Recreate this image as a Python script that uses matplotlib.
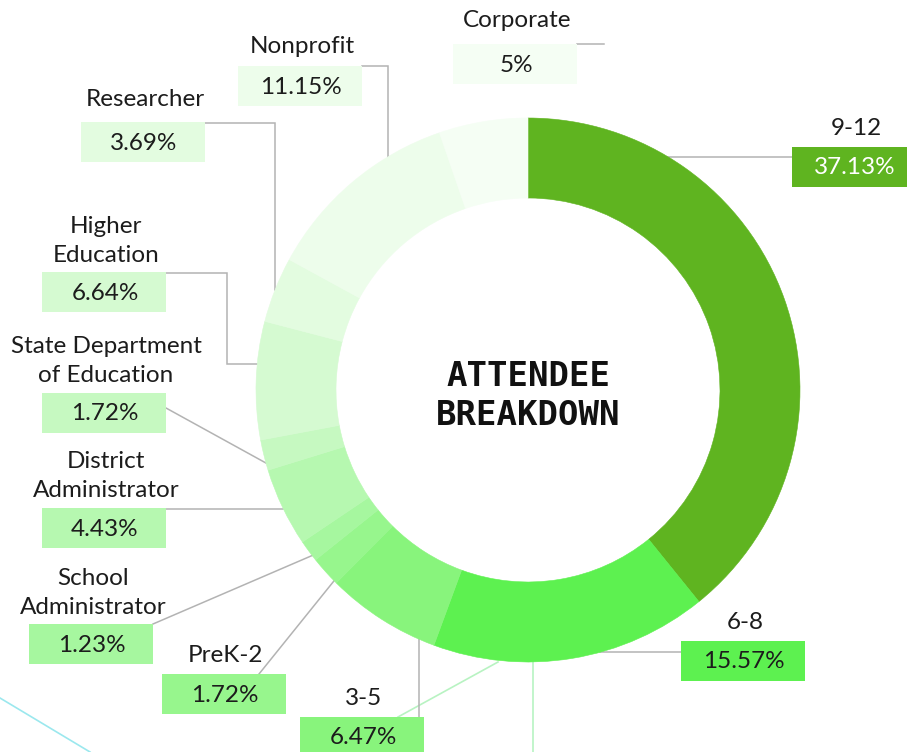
import numpy as np
import matplotlib.pyplot as plt
from matplotlib.patches import Rectangle

# data (clockwise from 12 o'clock)
categories = ['9-12', '6-8', '3-5', 'PreK-2', 'School\nAdministrator',
              'District\nAdministrator', 'State Department\nof Education',
              'Higher\nEducation', 'Researcher', 'Nonprofit', 'Corporate']
shares = [37.13, 15.57, 6.47, 1.72, 1.23, 4.43, 1.72, 6.64, 3.69, 11.15, 5]
colors = ['#5fb420', '#5df150', '#88f47c', '#97f68d', '#a6f79f', '#b6f8b0',
          '#c6f9c1', '#d5fad1', '#e3fce0', '#edfdeb', '#f5fef4']

# layout in pixels (y measured from top)
CX, CY, R, RING_W = 528, 390, 272, 80
BOX_W, BOX_H = 124, 40
# box top-left, baseline of last name line, leader kind, leader start, position inside wedge
layout = {
    '9-12': dict(box=(792, 147), name_y=135, kind='h', start=(792, 0), pos=0.22),
    '6-8': dict(box=(681, 641), name_y=629, kind='h', start=(681, 0), pos=0.40),
    '3-5': dict(box=(300, 717), name_y=705, kind='v', start=(0, 717), pos=0.14),
    'PreK-2': dict(box=(162, 674), name_y=662, kind='d', start=(259, 674), pos=0.10),
    'School\nAdministrator': dict(box=(29, 624), name_y=614, kind='d', start=(153, 624), pos=0.25),
    'District\nAdministrator': dict(box=(42, 508), name_y=497, kind='h', start=(166, 0), pos=0.48),
    'State Department\nof Education': dict(box=(42, 393), name_y=382, kind='d', start=(166, 408), pos=0.24),
    'Higher\nEducation': dict(box=(42, 272), name_y=262, kind='hvh', start=(166, 273), pos=0.64, via=227),
    'Researcher': dict(box=(81, 122), name_y=106, kind='hv', start=(205, 123), pos=0.50),
    'Nonprofit': dict(box=(238, 66), name_y=53, kind='hv', start=(362, 66), pos=0.72),
    'Corporate': dict(box=(453, 44), name_y=27, kind='stub', start=(577, 44), pos=None, stub_to=604),
}

LINE_C = '#b3b3b3'
TEXT_C = '#1c1c1c'
FONT = 'Lato'


def ring_point(frac):
    t = np.deg2rad(-90 + 360 * frac)
    return CX + R * np.cos(t), CY + R * np.sin(t)


def leader_path(kind, start, ring, via=None):
    sx, sy = start
    px, py = ring
    if kind == 'h':
        return [(sx, py), (px, py)]
    if kind == 'v':
        return [(px, sy), (px, py)]
    if kind == 'd':
        return [(sx, sy), (px, py)]
    if kind == 'hv':
        return [(sx, sy), (px, sy), (px, py)]
    if kind == 'hvh':
        return [(sx, sy), (via, sy), (via, py), (px, py)]


fig = plt.figure(figsize=(9.07, 7.52), dpi=100)
ax = fig.add_axes([0, 0, 1, 1])

ax.pie(shares, colors=colors, startangle=-90, counterclock=True,
       radius=R, center=(CX, CY),
       wedgeprops=dict(width=RING_W, linewidth=0.4, edgecolor='none'))
for w, c in zip(ax.patches, colors):
    w.set_edgecolor(c)
    w.set_zorder(3)

ax.set_xlim(0, 907)
ax.set_ylim(752, 0)
ax.set_aspect('auto')
ax.axis('off')

# background decoration pieces
ax.plot([0, 90], [698, 752], color='#9be8ee', lw=1.2, zorder=1)
ax.plot([398, 498], [717, 662], color='#b8f3c2', lw=1.2, zorder=1)
ax.plot([533, 533], [662, 752], color='#b8f3c2', lw=1.2, zorder=1)

total = sum(shares)
cum = np.concatenate([[0], np.cumsum(shares)]) / total

for i, (cat, val, col) in enumerate(zip(categories, shares, colors)):
    lay = layout[cat]
    bx, by = lay['box']
    ax.add_patch(Rectangle((bx, by), BOX_W, BOX_H, facecolor=col,
                           edgecolor='none', zorder=4))
    txt_c = 'white' if i == 0 else TEXT_C
    ax.text(bx + BOX_W / 2 + 1, by + BOX_H / 2 + 1, f'{val:g}%', ha='center', va='center',
            fontsize=17.5, family=FONT, color=txt_c, zorder=5)
    ax.text(bx + BOX_W / 2 + 2, lay['name_y'], cat, ha='center', va='baseline',
            fontsize=17.5, family=FONT, color=TEXT_C, linespacing=1.46, zorder=5)

    if lay['kind'] == 'stub':
        sx, sy = lay['start']
        pts = [(sx, sy), (lay['stub_to'], sy)]
    else:
        frac = cum[i] + lay['pos'] * (cum[i + 1] - cum[i])
        pts = leader_path(lay['kind'], lay['start'], ring_point(frac), lay.get('via'))
    xs, ys = zip(*pts)
    ax.plot(xs, ys, color=LINE_C, lw=1.1, zorder=2, solid_joinstyle='miter')

ax.text(CX, CY + 6, 'ATTENDEE\nBREAKDOWN', ha='center', va='center',
        fontsize=24.5, family='DejaVu Sans Mono', fontweight='bold',
        color='#111111', linespacing=1.2, zorder=5)

fig.savefig('out.png', dpi=100)
